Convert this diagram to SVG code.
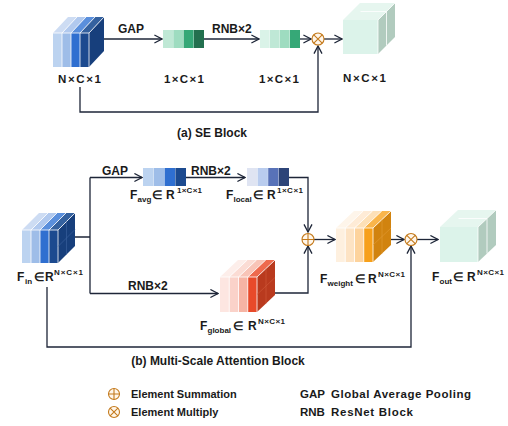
<svg xmlns="http://www.w3.org/2000/svg" width="508" height="426" viewBox="0 0 508 426">
<defs>
<style>
.t{font-family:"Liberation Sans",Arial,sans-serif;font-weight:bold;fill:#1a1a1a}
.l{font-size:12px}
.s{font-size:11.5px}
.cap{font-size:12px}
.sub{font-size:8px}
.sup{font-size:8px}
.ln{fill:none;stroke:#1e2638;stroke-width:1.3}
.arr{marker-end:url(#ah)}
.op{fill:#fff6ea;stroke:#c47a1c;stroke-width:1.1}
.opl{stroke:#c47a1c;stroke-width:1.1;fill:none}
.sep{stroke:#ffffff;stroke-width:0.8}
</style>
<marker id="ah" viewBox="0 0 10 10" refX="8.6" refY="5" markerWidth="10" markerHeight="10" markerUnits="userSpaceOnUse" orient="auto">
<path d="M1,1 L8.6,5 L1,9" fill="none" stroke="#1e2638" stroke-width="1.3"/>
</marker>
</defs>
<rect width="508" height="426" fill="#ffffff"/>

<!-- connectors -->
<g id="connectors">
<path class="ln arr" d="M104,39 H162"/>
<path class="ln arr" d="M204,39 H259"/>
<path class="ln arr" d="M300,39 H311"/>
<path class="ln arr" d="M324,39 H342"/>
<path class="ln arr" d="M80,87 V112 H318 V46"/>
<path class="ln" d="M75,237 H90 M90,177.5 V293.5"/>
<path class="ln arr" d="M90,177.5 H142"/>
<path class="ln arr" d="M90,293.5 H218"/>
<path class="ln arr" d="M186,177.5 H245"/>
<path class="ln arr" d="M289,177.5 H308 V232"/>
<path class="ln arr" d="M275,293 H308 V246"/>
<path class="ln arr" d="M314,239.5 H335"/>
<path class="ln arr" d="M382,239.5 H404"/>
<path class="ln arr" d="M417,239.5 H438"/>
<path class="ln arr" d="M47,287 V347 H411 V246"/>
</g>

<g id="se-in">
<polygon points="53,33 62,33 77,17 68,17" fill="#cddcf3"/>
<polygon points="62,33 71,33 86,17 77,17" fill="#b1c9ee"/>
<polygon points="71,33 80,33 95,17 86,17" fill="#5a8fdc"/>
<polygon points="80,33 89,33 104,17 95,17" fill="#34619f"/>
<polygon points="89,33 104,17 104,51 89,67" fill="#173f7c"/>
<rect x="53" y="33" width="9" height="34" fill="#bcd3f0"/>
<rect x="62" y="33" width="9" height="34" fill="#9ebde8"/>
<rect x="71" y="33" width="9" height="34" fill="#2f6fd0"/>
<rect x="80" y="33" width="9" height="34" fill="#1c4a8f"/>
<path class="sep" d="M62,33 V67 M71,33 V67 M80,33 V67 M89,33 V67 M62,33 L77,17 M71,33 L86,17 M80,33 L95,17 M89,33 L104,17 M53,33 H89"/>
<text class="t s" x="58" y="83" textLength="43">N×C×1</text>
</g>

<g id="se-gap">
<rect x="163" y="30" width="10" height="18" fill="#bfe8d5"/>
<rect x="173.3" y="30" width="10" height="18" fill="#9edcc0"/>
<rect x="183.6" y="30" width="10" height="18" fill="#35a877"/>
<rect x="193.9" y="30" width="10.1" height="18" fill="#23704f"/>
<text class="t s" x="164" y="83" textLength="40">1×C×1</text>
</g>

<g id="se-rnb">
<rect x="260" y="30" width="9.7" height="18" fill="#daf3e8"/>
<rect x="270" y="30" width="9.7" height="18" fill="#bfe8d6"/>
<rect x="280" y="30" width="9.7" height="18" fill="#9edcc0"/>
<rect x="290" y="30" width="10" height="18" fill="#36a877"/>
<text class="t s" x="259" y="83" textLength="40">1×C×1</text>
</g>

<g id="se-mul">
<circle class="op" cx="318" cy="39" r="6"/>
<path class="opl" d="M313.8,34.8 L322.2,43.2 M322.2,34.8 L313.8,43.2"/>
</g>

<g id="se-out">
<polygon points="343,20 378,20 395,3 360,3" fill="#e6f6ef"/>
<polygon points="378,20 395,3 395,37 378,54" fill="#b1cbbe"/>
<rect x="343" y="20" width="35" height="34" fill="#dcf3ea"/>
<path class="sep" d="M378,20 L395,3 M378,20 V54 M386.5,11.5 V45.5 M360.5,11.5 H386.5"/>
<text class="t s" x="343" y="82" textLength="43">N×C×1</text>
</g>

<text class="t l" x="118" y="33">GAP</text>
<text class="t l" x="212" y="33">RNB×2</text>
<text class="t cap" x="212" y="137" text-anchor="middle">(a) SE Block</text>

<g id="f-in">
<polygon points="22,230 31,230 48,213 39,213" fill="#cddcf3"/>
<polygon points="31,230 40,230 57,213 48,213" fill="#b1c9ee"/>
<polygon points="40,230 49,230 66,213 57,213" fill="#5a8fdc"/>
<polygon points="49,230 58,230 75,213 66,213" fill="#34619f"/>
<polygon points="58,230 75,213 75,246 58,263" fill="#173f7c"/>
<rect x="22" y="230" width="9" height="33" fill="#bcd3f0"/>
<rect x="31" y="230" width="9" height="33" fill="#9ebde8"/>
<rect x="40" y="230" width="9" height="33" fill="#2f6fd0"/>
<rect x="49" y="230" width="9" height="33" fill="#1c4a8f"/>
<path class="sep" d="M31,230 V263 M40,230 V263 M49,230 V263 M58,230 V263 M31,230 L48,213 M40,230 L57,213 M49,230 L66,213 M58,230 L75,213 M22,230 H58"/>
<path d="M66.5,221.5 V254.5 M58,246.5 L75,229.5" stroke="#3d63a0" stroke-width="0.6"/>
<text class="t"><tspan class="l" x="17" y="281">F</tspan><tspan class="sub" x="25" y="284">in</tspan><tspan class="l" x="34" y="281">∈</tspan><tspan class="l" x="45" y="281">R</tspan><tspan class="sup" x="54" y="275" textLength="29">N×C×1</tspan></text>
</g>

<g id="f-avg">
<rect x="143" y="168" width="10.5" height="18" fill="#bcd3f0"/>
<rect x="153.8" y="168" width="10.5" height="18" fill="#9ebde8"/>
<rect x="164.6" y="168" width="10.5" height="18" fill="#2f6fd0"/>
<rect x="175.4" y="168" width="10.6" height="18" fill="#1c4a8f"/>
<text class="t"><tspan class="l" x="130" y="199">F</tspan><tspan class="sub" x="137.5" y="202">avg</tspan><tspan class="l" x="152" y="199">∈</tspan><tspan class="l" x="166" y="199">R</tspan><tspan class="sup" x="177" y="193" textLength="25">1×C×1</tspan></text>
</g>

<g id="f-local">
<rect x="247" y="168" width="10.3" height="18" fill="#dfe4f2"/>
<rect x="257.6" y="168" width="10.3" height="18" fill="#b9ccee"/>
<rect x="268.2" y="168" width="10.3" height="18" fill="#5872b8"/>
<rect x="278.8" y="168" width="10.2" height="18" fill="#2d4478"/>
<text class="t"><tspan class="l" x="226" y="199">F</tspan><tspan class="sub" x="233.5" y="202">local</tspan><tspan class="l" x="253" y="199">∈</tspan><tspan class="l" x="267" y="199">R</tspan><tspan class="sup" x="277" y="193" textLength="26">1×C×1</tspan></text>
</g>

<g id="f-global">
<polygon points="220,277 229.25,277 247.25,260 238,260" fill="#fdeeea"/>
<polygon points="229.25,277 238.5,277 256.5,260 247.25,260" fill="#fbdcd4"/>
<polygon points="238.5,277 247.75,277 265.75,260 256.5,260" fill="#f8c4b7"/>
<polygon points="247.75,277 257,277 275,260 265.75,260" fill="#ee6a4e"/>
<polygon points="257,277 275,260 275,295 257,312" fill="#b93a1e"/>
<rect x="220" y="277" width="9.25" height="35" fill="#fde6e1"/>
<rect x="229.25" y="277" width="9.25" height="35" fill="#fad2c9"/>
<rect x="238.5" y="277" width="9.25" height="35" fill="#f6b4a4"/>
<rect x="247.75" y="277" width="9.25" height="35" fill="#e84a2a"/>
<path class="sep" d="M229.25,277 V312 M238.5,277 V312 M247.75,277 V312 M257,277 V312 M229.25,277 L247.25,260 M238.5,277 L256.5,260 M247.75,277 L265.75,260 M257,277 L275,260 M220,277 H257"/>
<path d="M266,268.5 V303.5 M257,294.5 L275,277.5" stroke="#d05a3a" stroke-width="0.6"/>
<text class="t"><tspan class="l" x="200" y="330">F</tspan><tspan class="sub" x="207.5" y="333">global</tspan><tspan class="l" x="233" y="330">∈</tspan><tspan class="l" x="248" y="330">R</tspan><tspan class="sup" x="258" y="324" textLength="27">N×C×1</tspan></text>
</g>

<g id="sum">
<circle class="op" cx="308" cy="239.5" r="6"/>
<path class="opl" d="M308,233.5 V245.5 M302,239.5 H314"/>
</g>

<g id="f-weight">
<polygon points="336,228 345.25,228 363.25,211 354,211" fill="#fef5ea"/>
<polygon points="345.25,228 354.5,228 372.5,211 363.25,211" fill="#feebd6"/>
<polygon points="354.5,228 363.75,228 381.75,211 372.5,211" fill="#fde0b7"/>
<polygon points="363.75,228 373,228 391,211 381.75,211" fill="#f9b54b"/>
<polygon points="373,228 391,211 391,245 373,262" fill="#d1830f"/>
<rect x="336" y="228" width="9.25" height="34" fill="#fef0df"/>
<rect x="345.25" y="228" width="9.25" height="34" fill="#fde3c4"/>
<rect x="354.5" y="228" width="9.25" height="34" fill="#fdd39d"/>
<rect x="363.75" y="228" width="9.25" height="34" fill="#f7a01a"/>
<path class="sep" d="M345.25,228 V262 M354.5,228 V262 M363.75,228 V262 M373,228 V262 M345.25,228 L363.25,211 M354.5,228 L372.5,211 M363.75,228 L381.75,211 M373,228 L391,211 M336,228 H373"/>
<path d="M382,219.5 V253.5 M373,245 L391,228" stroke="#e39b35" stroke-width="0.6"/>
<text class="t"><tspan class="l" x="320" y="283">F</tspan><tspan class="sub" x="327.5" y="286">weight</tspan><tspan class="l" x="355" y="283">∈</tspan><tspan class="l" x="368" y="283">R</tspan><tspan class="sup" x="378" y="277" textLength="27">N×C×1</tspan></text>
</g>

<g id="mul">
<circle class="op" cx="411" cy="239.5" r="6"/>
<path class="opl" d="M406.8,235.3 L415.2,243.7 M415.2,235.3 L406.8,243.7"/>
</g>

<g id="f-out">
<polygon points="440,227 478,227 496,210 458,210" fill="#e6f6ef"/>
<polygon points="478,227 496,210 496,245 478,262" fill="#b1cbbe"/>
<rect x="440" y="227" width="38" height="35" fill="#dcf3ea"/>
<path class="sep" d="M478,227 L496,210 M478,227 V262 M487,218.5 V253.5 M458.5,218.5 H487"/>
<text class="t"><tspan class="l" x="432" y="281">F</tspan><tspan class="sub" x="439.5" y="284">out</tspan><tspan class="l" x="453" y="281">∈</tspan><tspan class="l" x="467" y="281">R</tspan><tspan class="sup" x="477" y="275" textLength="27">N×C×1</tspan></text>
</g>

<text class="t l" x="102" y="175">GAP</text>
<text class="t l" x="191" y="175">RNB×2</text>
<text class="t l" x="128" y="290">RNB×2</text>
<text class="t cap" x="218" y="365" text-anchor="middle">(b) Multi-Scale Attention Block</text>

<g id="legend">
<circle class="op" cx="114" cy="394" r="5.5"/>
<path class="opl" d="M114,388.5 V399.5 M108.5,394 H119.5"/>
<circle class="op" cx="114" cy="412" r="5.5"/>
<path class="opl" d="M110.1,408.1 L117.9,415.9 M117.9,408.1 L110.1,415.9"/>
<text class="t" font-size="11" x="131" y="398">Element Summation</text>
<text class="t" font-size="11" x="131" y="416">Element Multiply</text>
<text class="t s" x="300" y="398">GAP</text>
<text class="t s" x="331" y="398" textLength="140">Global Average Pooling</text>
<text class="t s" x="300" y="416">RNB</text>
<text class="t s" x="331" y="416" textLength="82">ResNet Block</text>
</g>
</svg>
